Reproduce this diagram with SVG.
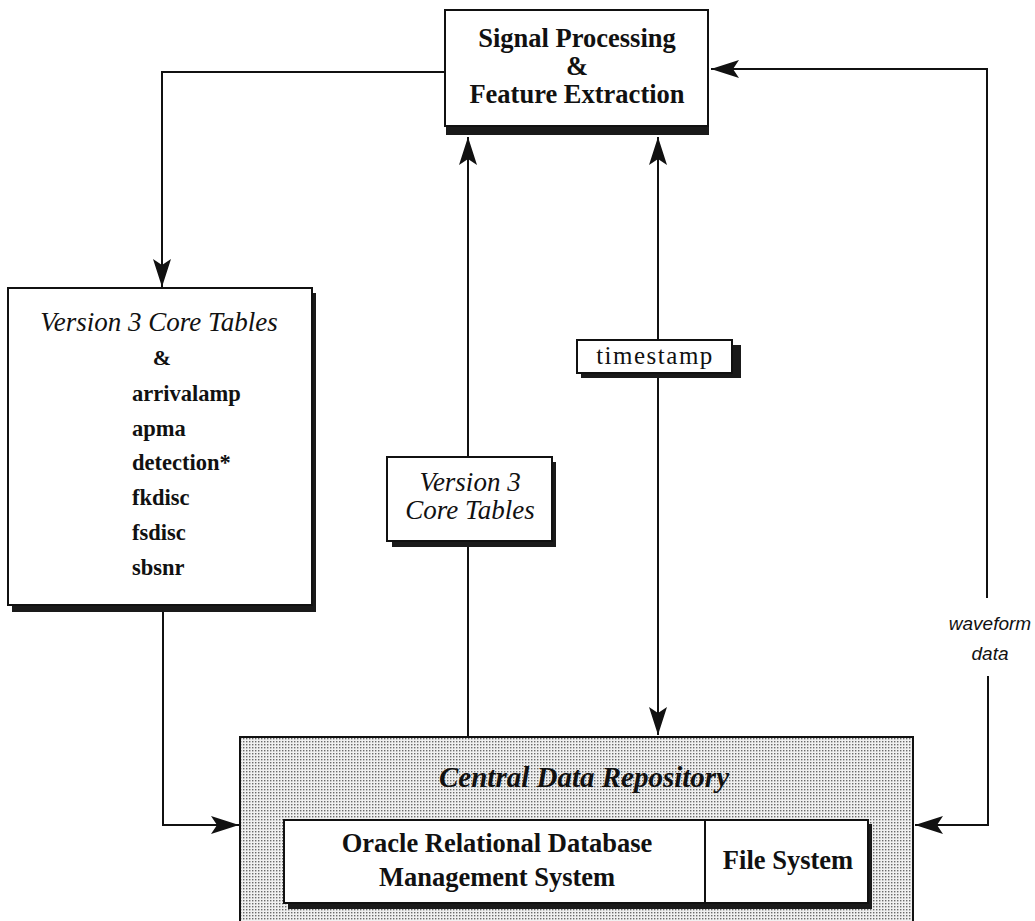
<svg xmlns="http://www.w3.org/2000/svg" width="1035" height="921" viewBox="0 0 1035 921">
<defs>
<style>
.box{fill:#fff;stroke:#111;stroke-width:2}
.shadow{fill:#1a1a1a}
.line{fill:none;stroke:#111;stroke-width:2}
.sb{font-family:"Liberation Serif",serif;font-weight:bold;fill:#111}
.si{font-family:"Liberation Serif",serif;font-style:italic;fill:#111}
.sr{font-family:"Liberation Serif",serif;fill:#111}
.hs{font-family:"Liberation Sans",sans-serif;font-style:italic;fill:#111}
</style>
<pattern id="stipple" width="3" height="3" patternUnits="userSpaceOnUse">
<rect width="3" height="3" fill="#f0f0f0"/>
<rect x="0" y="0" width="1.4" height="1.4" fill="#6a6a6a"/>
</pattern>
<marker id="arr" viewBox="-30 -10 32 20" refX="0" refY="0" markerWidth="32" markerHeight="20" markerUnits="userSpaceOnUse" orient="auto">
<path d="M0,0 L-28,-9 L-22,0 L-28,9 Z" fill="#111"/>
</marker>
</defs>
<rect width="1035" height="921" fill="#fff"/>

<g id="connectors">
<polyline class="line" points="445,72 162,72 162,287" marker-end="url(#arr)"/>
<polyline class="line" points="163,612 163,825 239,825" marker-end="url(#arr)"/>
<polyline class="line" points="988,676 988,825 915,825" marker-end="url(#arr)"/>
<polyline class="line" points="987,598 987,69 711,69" marker-end="url(#arr)"/>
<line class="line" x1="468" y1="737" x2="468" y2="137" marker-end="url(#arr)"/>
<line class="line" x1="658" y1="345" x2="658" y2="137" marker-end="url(#arr)"/>
<line class="line" x1="658" y1="370" x2="658" y2="735" marker-end="url(#arr)"/>
</g>

<g id="waveform-label">
<text class="hs" x="990" y="630" font-size="19" text-anchor="middle">waveform</text>
<text class="hs" x="990" y="660" font-size="19" text-anchor="middle">data</text>
</g>

<g id="signal-processing">
<rect class="shadow" x="446" y="120" width="263" height="15"/>
<rect class="box" x="445" y="10" width="263" height="116"/>
<text class="sb" x="577" y="47" font-size="26.5" text-anchor="middle">Signal Processing</text>
<text class="sb" x="577" y="75" font-size="26.5" text-anchor="middle">&amp;</text>
<text class="sb" x="577" y="103" font-size="26.5" text-anchor="middle">Feature Extraction</text>
</g>

<g id="v3-tables-left">
<rect class="shadow" x="12" y="293" width="304" height="319"/>
<rect class="box" x="8" y="288" width="304" height="317"/>
<text class="si" x="159" y="331" font-size="27" text-anchor="middle">Version 3 Core Tables</text>
<text class="sb" x="162" y="365" font-size="22" text-anchor="middle">&amp;</text>
<text class="sb" x="132" y="401" font-size="22.5">arrivalamp</text>
<text class="sb" x="132" y="436" font-size="22.5">apma</text>
<text class="sb" x="132" y="470" font-size="22.5">detection*</text>
<text class="sb" x="132" y="505" font-size="22.5">fkdisc</text>
<text class="sb" x="132" y="540" font-size="22.5">fsdisc</text>
<text class="sb" x="132" y="575" font-size="22.5">sbsnr</text>
</g>

<g id="v3-tables-mid">
<rect class="shadow" x="392" y="462" width="164" height="85"/>
<rect class="box" x="387" y="457" width="165" height="84"/>
<text class="si" x="470" y="491" font-size="27" text-anchor="middle">Version 3</text>
<text class="si" x="470" y="519" font-size="27" text-anchor="middle">Core Tables</text>
</g>

<g id="timestamp">
<rect class="shadow" x="581" y="345" width="160" height="33"/>
<rect class="box" x="577" y="340" width="155" height="33"/>
<text class="sr" x="655" y="364" font-size="25" letter-spacing="1.5" text-anchor="middle">timestamp</text>
</g>

<g id="central-repository">
<rect x="240" y="737" width="673" height="200" fill="url(#stipple)" stroke="#111" stroke-width="2"/>
<text class="si" x="584" y="787" font-size="29" font-weight="bold" text-anchor="middle">Central Data Repository</text>
<rect class="shadow" x="288" y="824" width="584" height="85"/>
<rect class="box" x="284" y="820" width="584" height="83"/>
<line class="line" x1="705" y1="820" x2="705" y2="903"/>
<text class="sb" x="497" y="852" font-size="26.5" text-anchor="middle">Oracle Relational Database</text>
<text class="sb" x="497" y="886" font-size="26.5" text-anchor="middle">Management System</text>
<text class="sb" x="788" y="869" font-size="26.5" text-anchor="middle">File System</text>
</g>
</svg>
